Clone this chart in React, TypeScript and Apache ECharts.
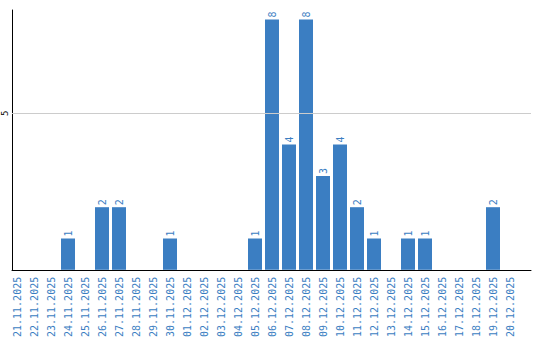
import React, { useEffect, useRef } from "react";
import * as echarts from "echarts";

const categories = [
  "21.11.2025", "22.11.2025", "23.11.2025", "24.11.2025", "25.11.2025",
  "26.11.2025", "27.11.2025", "28.11.2025", "29.11.2025", "30.11.2025",
  "01.12.2025", "02.12.2025", "03.12.2025", "04.12.2025", "05.12.2025",
  "06.12.2025", "07.12.2025", "08.12.2025", "09.12.2025", "10.12.2025",
  "11.12.2025", "12.12.2025", "13.12.2025", "14.12.2025", "15.12.2025",
  "16.12.2025", "17.12.2025", "18.12.2025", "19.12.2025", "20.12.2025",
];

const values: (number | null)[] = [
  null, null, null, 1, null,
  2, 2, null, null, 1,
  null, null, null, null, 1,
  8, 4, 8, 3, 4,
  2, 1, null, 1, 1,
  null, null, null, 2, null,
];

const yMax = 8.3;
const gridLineValue = 5;

const BLUE = "#3b7ec2";
const FONT = "DejaVu Sans Mono";

export default function App() {
  const ref = useRef<HTMLDivElement>(null);
  useEffect(() => {
    if (!ref.current) return;
    const chart = echarts.init(ref.current, undefined, { renderer: "svg" });
    chart.setOption({
      animation: false,
      backgroundColor: "#ffffff",
      grid: [
        { left: 10, top: 10, width: 521, height: 260, containLabel: false },
        { left: 8.5, top: 10, width: 510, height: 260, containLabel: false },
      ],
      xAxis: [
        {
          type: "category",
          gridIndex: 0,
          data: categories,
          axisLine: { show: true, lineStyle: { color: "#000", width: 1 } },
          axisTick: { show: false },
          axisLabel: { show: false },
          splitLine: { show: false },
        },
        {
          type: "category",
          gridIndex: 1,
          data: categories,
          axisLine: { show: false },
          axisTick: { show: false },
          axisLabel: {
            show: true,
            interval: 0,
            rotate: 90,
            margin: 7,
            color: BLUE,
            fontFamily: FONT,
            fontSize: 10,
          },
          splitLine: { show: false },
        },
      ],
      yAxis: [
        {
          type: "value",
          gridIndex: 0,
          min: 0,
          max: yMax,
          interval: 5,
          axisLine: { show: true, lineStyle: { color: "#000", width: 1 } },
          axisTick: { show: false },
          splitLine: { show: false },
          axisLabel: {
            show: true,
            rotate: 90,
            margin: 3,
            color: "#000",
            fontFamily: FONT,
            fontSize: 9,
            formatter: (v: number) => (v === 5 ? "5" : ""),
          },
        },
        {
          type: "value",
          gridIndex: 1,
          min: 0,
          max: yMax,
          interval: 5,
          show: false,
        },
      ],
      series: [
        {
          type: "line",
          xAxisIndex: 0,
          yAxisIndex: 0,
          data: [],
          silent: true,
          z: 1,
          markLine: {
            silent: true,
            symbol: "none",
            label: { show: false },
            lineStyle: { color: "#cccccc", type: "solid", width: 1 },
            data: [{ yAxis: gridLineValue }],
          },
        },
        {
          type: "bar",
          xAxisIndex: 1,
          yAxisIndex: 1,
          data: values,
          barWidth: 14,
          z: 3,
          itemStyle: { color: BLUE },
          label: {
            show: true,
            position: "top",
            rotate: 90,
            align: "left",
            verticalAlign: "middle",
            distance: 2,
            color: BLUE,
            fontFamily: FONT,
            fontSize: 10,
          },
        },
      ],
    });
    return () => chart.dispose();
  }, []);
  return (
    <div
      ref={ref}
      style={{ position: "absolute", left: 0, top: 0, width: 540, height: 340 }}
    />
  );
}
